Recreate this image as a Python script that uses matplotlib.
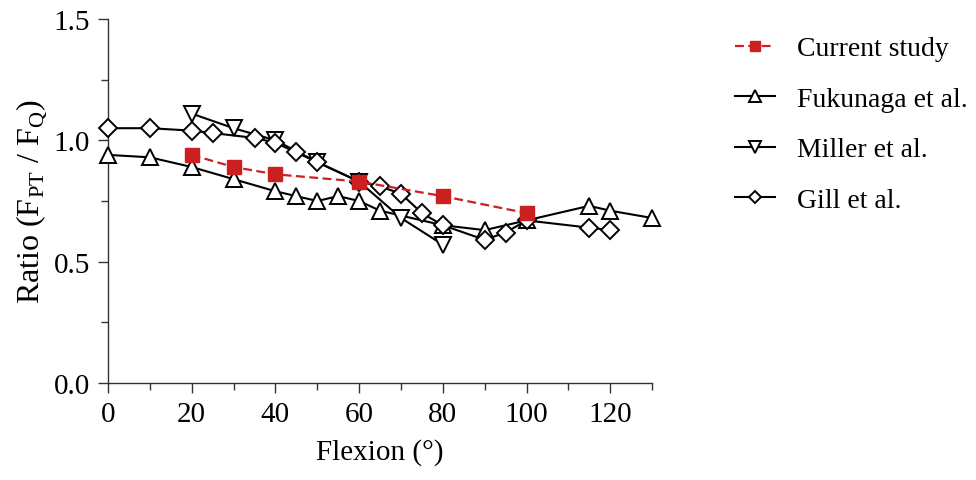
import numpy as np
import matplotlib
matplotlib.use('Agg')
import matplotlib.pyplot as plt
from matplotlib.ticker import MultipleLocator

plt.rcParams['font.family'] = ['Liberation Serif', 'DejaVu Serif']
plt.rcParams['mathtext.fontset'] = 'custom'
plt.rcParams['mathtext.rm'] = 'Liberation Serif'

# data
currentX = [20, 30, 40, 60, 80, 100]
currentY = [0.94, 0.89, 0.86, 0.83, 0.77, 0.70]

fukunagaX = [0, 10, 20, 30, 40, 45, 50, 55, 60, 65, 80, 90, 100, 115, 120, 130]
fukunagaY = [0.94, 0.93, 0.89, 0.84, 0.79, 0.77, 0.75, 0.77, 0.75, 0.71, 0.65, 0.63, 0.67, 0.73, 0.71, 0.68]

millerX = [20, 30, 40, 50, 60, 70, 80]
millerY = [1.11, 1.05, 1.00, 0.91, 0.83, 0.68, 0.57]

gillX = [0, 10, 20, 25, 35, 40, 45, 50, 60, 65, 70, 75, 80, 90, 95, 100, 115, 120]
gillY = [1.05, 1.05, 1.04, 1.03, 1.01, 0.99, 0.95, 0.91, 0.83, 0.81, 0.78, 0.70, 0.65, 0.59, 0.62, 0.67, 0.64, 0.63]

fig = plt.figure(figsize=(9.76, 4.81), dpi=100)
ax = fig.add_axes([0.1107, 0.2017, 0.5574, 0.7567])

red = '#cc1f1f'
ax.plot(fukunagaX, fukunagaY, color='black', lw=1.5, marker='^', ms=12,
        mfc='white', mec='black', mew=1.4, clip_on=False, label='Fukunaga et al.', zorder=3)
ax.plot(millerX, millerY, color='black', lw=1.5, marker='v', ms=12,
        mfc='white', mec='black', mew=1.4, clip_on=False, label='Miller et al.', zorder=3)
ax.plot(gillX, gillY, color='black', lw=1.5, marker='D', ms=9,
        mfc='white', mec='black', mew=1.4, clip_on=False, label='Gill et al.', zorder=3)
ax.plot(currentX, currentY, color=red, lw=1.6, ls='--', dashes=(4, 2), marker='s', ms=10,
        mfc=red, mec=red, clip_on=False, label='Current study', zorder=4)

ax.set_xlim(0, 130)
ax.set_ylim(0, 1.5)
ax.xaxis.set_major_locator(MultipleLocator(20))
ax.xaxis.set_minor_locator(MultipleLocator(10))
ax.yaxis.set_major_locator(MultipleLocator(0.5))
ax.yaxis.set_minor_locator(MultipleLocator(0.25))
ax.yaxis.set_major_formatter(plt.FormatStrFormatter('%.1f'))

for s in ['top', 'right']:
    ax.spines[s].set_visible(False)
for s in ['left', 'bottom']:
    ax.spines[s].set_color('#333333')
    ax.spines[s].set_linewidth(1.0)

ax.tick_params(which='major', direction='out', length=7, width=1.0, color='#333333',
               labelsize=21, pad=6)
ax.tick_params(which='minor', direction='out', length=5, width=1.0, color='#333333')

ax.set_xlabel('Flexion (°)', fontsize=21, labelpad=8)
ax.set_ylabel(r'Ratio (F$_{\mathrm{PT}}$ / F$_{\mathrm{Q}}$)', fontsize=23, labelpad=3)

handles, labels = ax.get_legend_handles_labels()
order = [3, 0, 1, 2]
fig.legend([handles[i] for i in order], [labels[i] for i in order],
           loc='upper left', bbox_to_anchor=(0.727, 0.975), frameon=False,
           fontsize=20, labelspacing=0.9, handlelength=1.45, handletextpad=0.8,
           markerscale=0.7)

fig.savefig('out.png', dpi=100)
